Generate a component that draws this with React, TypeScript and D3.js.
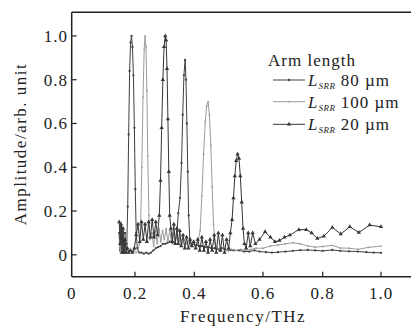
import React from "react";
import * as d3 from "d3";

const xTicks = [0, 0.2, 0.4, 0.6, 0.8, 1.0];
const xTickLabels = ["0", "0.2", "0.4", "0.6", "0.8", "1.0"];
const yTicks = [0, 0.2, 0.4, 0.6, 0.8, 1.0];
const yTickLabels = ["0", "0.2", "0.4", "0.6", "0.8", "1.0"];

const seriesNames = ["80 µm", "100 µm", "20 µm"];

const s80: [number, number][] = [
  [0.150,0.10],[0.153,0.02],[0.156,0.13],[0.159,0.03],[0.162,0.12],[0.165,0.02],[0.168,0.10],[0.171,0.03],[0.174,0.05],[0.177,0.22],[0.180,0.55],[0.183,0.84],[0.186,0.97],[0.189,1.00],[0.192,0.95],[0.195,0.82],[0.198,0.58],[0.201,0.30],[0.204,0.10],[0.208,0.03],[0.214,0.01],[0.222,0.01],[0.230,0.005],[0.238,0.01],[0.246,0.005],[0.254,0.01],[0.262,0.02],[0.270,0.03],[0.278,0.035],[0.286,0.04],[0.294,0.05],[0.302,0.05],[0.310,0.055],[0.318,0.06],[0.326,0.055],[0.334,0.06],[0.341,0.09],[0.346,0.19],[0.352,0.26],[0.357,0.42],[0.361,0.64],[0.365,0.82],[0.369,0.89],[0.372,0.80],[0.375,0.60],[0.378,0.38],[0.381,0.18],[0.385,0.07],[0.390,0.045],[0.398,0.05],[0.406,0.045],[0.414,0.04],[0.422,0.04],[0.430,0.035],[0.440,0.035],[0.450,0.03],[0.460,0.03],[0.470,0.025],[0.480,0.03],[0.490,0.025],[0.500,0.02],[0.515,0.02],[0.530,0.02],[0.545,0.015],[0.560,0.015],[0.575,0.02],[0.590,0.015],[0.610,0.012],[0.630,0.01],[0.650,0.012],[0.675,0.015],[0.700,0.018],[0.725,0.021],[0.750,0.022],[0.775,0.02],[0.800,0.018],[0.833,0.022],[0.860,0.018],[0.890,0.016],[0.920,0.015],[0.950,0.012],[0.975,0.01],[1.000,0.009]
];

const s100: [number, number][] = [
  [0.150,0.08],[0.154,0.01],[0.158,0.10],[0.162,0.02],[0.166,0.09],[0.170,0.01],[0.175,0.04],[0.180,0.01],[0.186,0.02],[0.192,0.01],[0.198,0.02],[0.204,0.01],[0.210,0.02],[0.215,0.05],[0.219,0.14],[0.223,0.40],[0.227,0.72],[0.231,0.94],[0.234,1.00],[0.237,0.95],[0.240,0.75],[0.243,0.45],[0.247,0.18],[0.251,0.07],[0.257,0.10],[0.263,0.04],[0.269,0.11],[0.275,0.05],[0.281,0.12],[0.287,0.06],[0.293,0.11],[0.299,0.07],[0.305,0.12],[0.311,0.06],[0.317,0.11],[0.323,0.06],[0.329,0.10],[0.335,0.05],[0.341,0.09],[0.347,0.05],[0.353,0.08],[0.360,0.05],[0.367,0.07],[0.374,0.05],[0.381,0.06],[0.388,0.04],[0.396,0.05],[0.404,0.04],[0.411,0.06],[0.417,0.11],[0.422,0.27],[0.427,0.46],[0.432,0.61],[0.436,0.68],[0.440,0.70],[0.444,0.64],[0.448,0.50],[0.452,0.31],[0.456,0.14],[0.461,0.05],[0.468,0.03],[0.476,0.02],[0.486,0.03],[0.496,0.02],[0.508,0.025],[0.520,0.02],[0.535,0.025],[0.550,0.02],[0.565,0.025],[0.580,0.03],[0.600,0.03],[0.625,0.04],[0.650,0.045],[0.675,0.05],[0.700,0.055],[0.725,0.05],[0.750,0.04],[0.775,0.035],[0.800,0.038],[0.833,0.043],[0.860,0.031],[0.890,0.03],[0.920,0.025],[0.957,0.034],[1.000,0.04]
];

const s20: [number, number][] = [
  [0.150,0.15],[0.153,0.05],[0.156,0.14],[0.159,0.01],[0.162,0.12],[0.165,0.01],[0.168,0.07],[0.172,0.01],[0.176,0.03],[0.180,0.01],[0.186,0.02],[0.192,0.01],[0.198,0.03],[0.204,0.09],[0.210,0.14],[0.216,0.06],[0.222,0.15],[0.228,0.07],[0.234,0.14],[0.240,0.06],[0.246,0.15],[0.252,0.08],[0.258,0.16],[0.264,0.08],[0.270,0.15],[0.276,0.09],[0.282,0.18],[0.286,0.34],[0.290,0.58],[0.294,0.80],[0.298,0.95],[0.302,1.00],[0.305,0.98],[0.308,0.85],[0.311,0.62],[0.314,0.38],[0.317,0.18],[0.321,0.12],[0.326,0.06],[0.331,0.14],[0.336,0.05],[0.341,0.12],[0.346,0.05],[0.351,0.11],[0.356,0.04],[0.362,0.09],[0.368,0.03],[0.374,0.08],[0.380,0.03],[0.386,0.07],[0.392,0.04],[0.398,0.06],[0.404,0.03],[0.410,0.07],[0.416,0.02],[0.422,0.08],[0.428,0.02],[0.434,0.06],[0.440,0.01],[0.446,0.07],[0.452,0.02],[0.458,0.09],[0.464,0.01],[0.470,0.10],[0.476,0.02],[0.482,0.09],[0.488,0.01],[0.494,0.07],[0.500,0.03],[0.505,0.10],[0.510,0.16],[0.514,0.26],[0.518,0.36],[0.522,0.43],[0.526,0.46],[0.530,0.44],[0.534,0.36],[0.538,0.24],[0.542,0.12],[0.546,0.05],[0.551,0.03],[0.557,0.10],[0.563,0.04],[0.570,0.10],[0.578,0.05],[0.590,0.07],[0.607,0.105],[0.625,0.08],[0.640,0.06],[0.655,0.065],[0.672,0.08],[0.690,0.09],[0.720,0.115],[0.745,0.115],[0.763,0.10],[0.782,0.075],[0.804,0.085],[0.833,0.125],[0.862,0.095],[0.893,0.128],[0.924,0.102],[0.961,0.136],[1.000,0.128]
];

const W = 411;
const H = 328;
const FONT = "'Liberation Serif', 'Times New Roman', serif";

export default function App() {
  const x = d3
    .scaleLinear()
    .domain([0, 0.2, 0.4, 0.6, 0.8, 1.0, 1.1])
    .range([71.7, 135, 194.3, 263, 322.7, 381, 411]);
  const y = d3.scaleLinear().domain([-0.1, 1.108]).range([276.7, 12.3]);

  const line = d3
    .line<[number, number]>()
    .x((d) => x(d[0]))
    .y((d) => y(d[1]));

  const tri = d3.symbol().type(d3.symbolTriangle).size(8)();

  const series = [
    { name: seriesNames[0], data: s80, color: "#404040", marker: "dot" },
    { name: seriesNames[1], data: s100, color: "#9c9c9c", marker: "small" },
    { name: seriesNames[2], data: s20, color: "#363636", marker: "tri" },
  ];

  const renderMarker = (m: string, cx: number, cy: number, color: string, key: any) => {
    if (m === "dot") return <circle key={key} cx={cx} cy={cy} r={1.15} fill={color} />;
    if (m === "small") return <circle key={key} cx={cx} cy={cy} r={0.9} fill={color} />;
    return <path key={key} d={tri as string} transform={`translate(${cx},${cy})`} fill={color} />;
  };

  const x0 = x(0);
  const yb = y(-0.1);
  const yt = y(1.108);
  const legendRows = [80, 101.7, 124.3];

  return (
    <svg
      width={W}
      height={H}
      style={{ position: "absolute", left: 0, top: 0, background: "#fff" }}
      fontFamily={FONT}
    >
      <rect x={0} y={0} width={W} height={H} fill="#fff" />
      {/* frame */}
      <line x1={x0} y1={yt} x2={W} y2={yt} stroke="#222" strokeWidth={1.5} />
      <line x1={x0} y1={yt} x2={x0} y2={yb} stroke="#222" strokeWidth={1.5} />
      <line x1={x0} y1={yb} x2={W} y2={yb} stroke="#222" strokeWidth={1.5} />

      {/* x ticks */}
      {xTicks.map((t, i) => (
        <g key={"xt" + i}>
          {t !== 0 && (
            <line x1={x(t)} x2={x(t)} y1={yb} y2={yb - 5} stroke="#222" strokeWidth={1.2} />
          )}
          <text
            x={x(t)}
            y={299}
            textAnchor="middle"
            fontSize={17}
            letterSpacing={1}
            fill="#222"
          >
            {xTickLabels[i]}
          </text>
        </g>
      ))}

      {/* y ticks */}
      {yTicks.map((t, i) => (
        <g key={"yt" + i}>
          <line x1={x0} x2={x0 + 5} y1={y(t)} y2={y(t)} stroke="#222" strokeWidth={1.2} />
          <text
            x={68}
            y={y(t) + 5.8}
            textAnchor="end"
            fontSize={17}
            letterSpacing={1}
            fill="#222"
          >
            {yTickLabels[i]}
          </text>
        </g>
      ))}

      {/* axis titles */}
      <text
        x={243}
        y={322}
        textAnchor="middle"
        fontSize={17}
        letterSpacing={1.5}
        fill="#222"
      >
        Frequency/THz
      </text>
      <text
        transform={`translate(26,144) rotate(-90)`}
        textAnchor="middle"
        fontSize={17}
        letterSpacing={1.5}
        fill="#222"
      >
        Amplitude/arb. unit
      </text>

      {/* series */}
      <g>
        {series.map((s, si) => (
          <g key={"s" + si}>
            <path d={line(s.data) as string} fill="none" stroke={s.color} strokeWidth={1} />
            {s.data.map((d, i) => renderMarker(s.marker, x(d[0]), y(d[1]), s.color, i))}
          </g>
        ))}
      </g>

      {/* legend */}
      <text x={268} y={66} fontSize={17} letterSpacing={1} fill="#222">
        Arm length
      </text>
      {series.map((s, i) => (
        <g key={"lg" + i}>
          <line x1={273} x2={305} y1={legendRows[i]} y2={legendRows[i]} stroke={s.color} strokeWidth={1} />
          {renderMarker(s.marker, 289, legendRows[i], s.color, "m")}
          <text x={308} y={legendRows[i] + 5.8} fontSize={17} letterSpacing={1} fill="#222">
            <tspan fontStyle="italic">L</tspan>
            <tspan fontStyle="italic" fontSize={9} dy={3} letterSpacing={0.5}>
              SRR
            </tspan>
            <tspan dy={-3}> {s.name}</tspan>
          </text>
        </g>
      ))}
    </svg>
  );
}
